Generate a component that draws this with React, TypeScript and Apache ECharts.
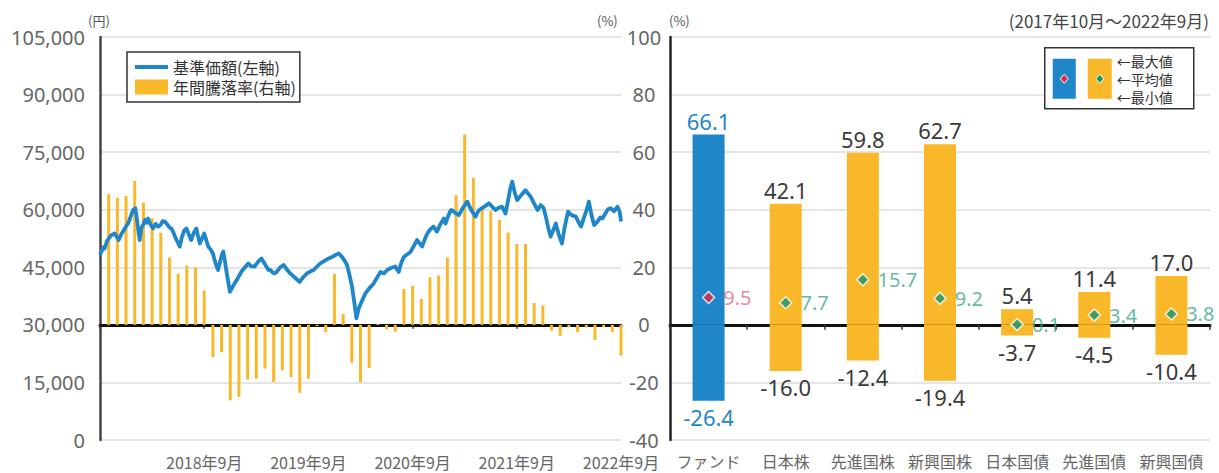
import React, { useEffect, useRef } from 'react';
import * as echarts from 'echarts';

// ---- Left chart data ----
// NAV (基準価額) readings: position in months since end of Sep 2017, value in yen
const navMonths = [
  0.0, 0.2, 0.4, 0.54, 0.8, 1.12, 1.4, 1.69, 1.9, 2.15, 2.4, 2.65, 2.9, 3.23, 3.5, 3.81, 4.07, 4.25, 4.45, 4.57,
  4.75, 4.96, 5.2, 5.35, 5.54, 5.8, 6.11, 6.4, 6.69, 7.0, 7.2, 7.46, 7.7, 8.0, 8.23, 8.5, 8.75, 9.0, 9.19, 9.4,
  9.7, 9.96, 10.2, 10.5, 10.8, 11.1, 11.3, 11.5, 11.75, 12.0, 12.25, 12.46, 12.75, 13.0, 13.2, 13.4, 13.6, 13.8, 14.0, 14.2,
  14.4, 14.6, 14.8, 14.96, 15.2, 15.5, 15.9, 16.3, 16.7, 17.07, 17.4, 17.8, 18.2, 18.6, 19.0, 19.4, 19.61, 19.9, 20.15, 20.38,
  20.75, 21.14, 21.5, 21.91, 22.4, 22.99, 23.4, 23.84, 24.2, 24.6, 25.0, 25.37, 25.8, 26.33, 26.9, 27.2, 27.49, 27.87, 28.15, 28.45,
  28.75, 29.03, 29.3, 29.53, 29.8, 30.2, 30.56, 31.0, 31.52, 31.9, 32.3, 32.7, 33.07, 33.5, 34.0, 34.4, 34.7, 34.98, 35.4, 35.76,
  36.1, 36.5, 37.1, 37.4, 37.7, 38.0, 38.4, 38.8, 39.2, 39.6, 39.79, 40.1, 40.4, 40.56, 40.9, 41.33, 41.8, 42.29, 42.6, 42.9,
  43.25, 43.6, 44.0, 44.4, 44.8, 45.2, 45.56, 45.9, 46.3, 46.7, 47.0, 47.25, 47.48, 47.75, 48.05, 48.5, 49.0, 49.3, 49.6, 50.0,
  50.4, 50.75, 51.1, 51.4, 51.65, 51.9, 52.2, 52.5, 52.8, 53.0, 53.2, 53.5, 53.9, 54.3, 54.8, 55.1, 55.4, 55.8, 56.0, 56.3,
  56.6, 56.9, 57.3, 57.6, 57.85, 58.2, 58.5, 58.8, 59.2, 59.6, 59.85, 60.0,
];
const navValues = [
  48200, 49300, 50200, 49900, 51800, 52900, 53500, 53800, 53000, 52100, 53400, 54300, 55300, 56400, 58000, 59900, 60400, 57500, 54000, 52100,
  55200, 56000, 57400, 56600, 57700, 56200, 55100, 56300, 55600, 56100, 57000, 56900, 56300, 55400, 55100, 53800, 52400, 51300, 50400, 52600,
  54600, 55100, 53700, 52100, 54000, 55100, 53000, 51200, 52500, 53800, 52000, 50400, 49600, 48600, 46900, 45400, 44300, 46200, 48000, 49100,
  46400, 43400, 40800, 38600, 39600, 40800, 42300, 43900, 45000, 46000, 45300, 45200, 46400, 47300, 45800, 44300, 44300, 43600, 43400, 43900,
  45000, 45600, 44500, 43400, 42400, 41200, 42400, 43400, 43900, 44300, 45200, 46000, 46600, 47300, 47900, 48300, 48600, 47700, 46800, 45600,
  42800, 39900, 35600, 31700, 34300, 36400, 38200, 39500, 40800, 42300, 43800, 43400, 44300, 44800, 45200, 43800, 46200, 47700, 48400, 49000,
  50400, 52100, 50400, 52300, 53800, 54800, 55600, 54300, 56200, 57700, 56400, 58400, 59900, 59900, 59200, 58600, 60500, 62100, 60600, 59400,
  58200, 59800, 60400, 61000, 61700, 60700, 59900, 60500, 60800, 59000, 62500, 65500, 67300, 64500, 62500, 63800, 65100, 64200, 63400, 61600,
  59900, 61200, 60400, 57600, 55000, 53000, 54700, 56400, 53800, 52400, 51200, 55300, 59500, 58600, 58200, 56800, 55600, 58400, 59600, 62100,
  58600, 56000, 56900, 58000, 57700, 59000, 60100, 60400, 59600, 60800, 59500, 56900,
];
// 年間騰落率 at each month end, Oct 2017 .. Sep 2022 (%)
const annualReturns = [
  45.4, 44.2, 44.8, 50.0, 42.5, 37.0, 32.0, 23.4, 17.7, 20.6, 20.0, 11.9,
  -11.2, -9.5, -26.2, -25.0, -19.0, -18.7, -15.2, -19.9, -15.8, -18.1, -23.6, -18.7,
  -0.4, -2.5, 17.7, 3.8, -13.2, -19.9, -15.0, 0.3, -1.5, -2.4, 12.4, 13.6,
  9.0, 16.5, 17.1, 23.4, 45.0, 66.1, 51.0, 40.5, 39.5, 36.5, 32.1, 28.1,
  28.1, 7.6, 6.7, -2.0, -3.8, -0.8, -2.5, -0.9, -5.3, -0.8, -2.5, -10.7,
];
const xTickLabels = ['2018年9月', '2019年9月', '2020年9月', '2021年9月', '2022年9月'];

// ---- Right chart data ----
const categories = ['ファンド', '日本株', '先進国株', '新興国株', '日本国債', '先進国債', '新興国債'];
const maxValues = [66.1, 42.1, 59.8, 62.7, 5.4, 11.4, 17.0];
const avgValues = [9.5, 7.7, 15.7, 9.2, 0.1, 3.4, 3.8];
const minValues = [-26.4, -16.0, -12.4, -19.4, -3.7, -4.5, -10.4];

const BLUE = '#1f87c9';
const ORANGE = '#f9b82a';
const RED = '#e5283f';
const GREEN = '#15956b';
const PINK_TXT = '#e8687e';
const GREEN_TXT = '#3aa888';
const GRAY_TXT = '#666';
const DARK_TXT = '#3a3a3a';
const GRID = '#dcdcdc';
const NUM_FONT = "'Noto Sans', 'DejaVu Sans', sans-serif";
const JP_FONT = "'Noto Sans CJK JP', 'Noto Sans', sans-serif";

const fmtComma = (v: number) => String(v).replace(/\B(?=(\d{3})+(?!\d))/g, ',');

export default function App() {
  const ref = useRef<HTMLDivElement>(null);
  useEffect(() => {
    if (!ref.current) return;
    const chart = echarts.init(ref.current, undefined, { renderer: 'svg' });
    const option: any = {
      animation: false,
      backgroundColor: '#fff',
      grid: [
        { left: 100, right: 598, top: 37, bottom: 33, containLabel: false, outerBoundsMode: 'none' },
        { left: 670, right: 9, top: 37, bottom: 33, containLabel: false, outerBoundsMode: 'none' },
      ],
      legend: {
        data: [
          { name: '基準価額(左軸)', icon: 'path://M0,0h33v4h-33z' },
          { name: '年間騰落率(右軸)', icon: 'rect' },
        ],
        left: 127,
        top: 52,
        orient: 'vertical',
        itemWidth: 33,
        itemHeight: 15,
        itemGap: 4,
        padding: [7, 4, 7, 8],
        borderColor: '#333',
        borderWidth: 1.5,
        backgroundColor: '#fff',
        textStyle: { fontSize: 16, lineHeight: 15, color: '#333', fontFamily: JP_FONT },
        z: 10,
      },
      xAxis: [
        {
          type: 'value',
          gridIndex: 0,
          min: 0,
          max: 60,
          interval: 12,
          axisLine: { show: true, onZero: true, onZeroAxisIndex: 1, lineStyle: { color: '#111', width: 3 } },
          axisTick: { show: true, length: 4, lineStyle: { color: '#333', width: 1.5 } },
          axisLabel: {
            margin: 14,
            fontSize: 16,
            lineHeight: 16,
            color: GRAY_TXT,
            fontFamily: JP_FONT,
            formatter: (v: number) => (v > 0 && v % 12 === 0 ? xTickLabels[v / 12 - 1] : ''),
          },
          splitLine: { show: false },
        },
        {
          type: 'category',
          gridIndex: 1,
          data: categories,
          axisLine: { show: true, onZero: true, lineStyle: { color: '#111', width: 3 } },
          axisTick: { show: true, length: 5, lineStyle: { color: '#333', width: 1.5 } },
          axisLabel: { margin: 13, fontSize: 16, lineHeight: 16, color: GRAY_TXT, fontFamily: JP_FONT, interval: 0 },
        },
      ],
      yAxis: [
        {
          type: 'value',
          gridIndex: 0,
          position: 'left',
          min: 0,
          max: 105000,
          interval: 15000,
          axisLine: { show: true, lineStyle: { color: '#444', width: 2.5 } },
          axisTick: { show: false },
          axisLabel: { margin: 15, fontSize: 20, color: GRAY_TXT, fontFamily: NUM_FONT, formatter: fmtComma },
          splitLine: { show: true, lineStyle: { color: GRID, width: 1.5 } },
        },
        {
          type: 'value',
          gridIndex: 0,
          position: 'right',
          min: -40,
          max: 100,
          interval: 20,
          axisLine: { show: false },
          axisTick: { show: false },
          axisLabel: { margin: 23, align: 'center', fontSize: 20, lineHeight: 18, color: GRAY_TXT, fontFamily: NUM_FONT },
          splitLine: { show: false },
        },
        {
          type: 'value',
          gridIndex: 1,
          min: -40,
          max: 100,
          interval: 20,
          axisLine: { show: true, lineStyle: { color: '#222', width: 2.5 } },
          axisTick: { show: false },
          axisLabel: { show: false },
          splitLine: { show: true, lineStyle: { color: GRID, width: 1.5 } },
        },
      ],
      series: [
        {
          name: '年間騰落率(右軸)',
          type: 'bar',
          xAxisIndex: 0,
          yAxisIndex: 1,
          barWidth: 3,
          itemStyle: { color: ORANGE },
          data: annualReturns.map((v, i) => [i + 1, v]),
        },
        {
          name: '基準価額(左軸)',
          type: 'line',
          xAxisIndex: 0,
          yAxisIndex: 0,
          symbol: 'none',
          z: 4,
          lineStyle: { color: BLUE, width: 3.8, join: 'round' },
          itemStyle: { color: BLUE },
          data: navMonths.map((m, i) => [m, navValues[i]]),
        },
        {
          name: '最大値',
          type: 'bar',
          xAxisIndex: 1,
          yAxisIndex: 2,
          stack: 'range',
          barWidth: 32,
          label: {
            show: true,
            position: 'top',
            distance: 3,
            fontSize: 22,
            fontFamily: NUM_FONT,
            formatter: (p: any) => Number(p.value).toFixed(1),
          },
          data: maxValues.map((v, i) => ({
            value: v,
            itemStyle: { color: i === 0 ? BLUE : ORANGE },
            label: { color: i === 0 ? BLUE : DARK_TXT },
          })),
        },
        {
          name: '最小値',
          type: 'bar',
          xAxisIndex: 1,
          yAxisIndex: 2,
          stack: 'range',
          barWidth: 32,
          label: {
            show: true,
            position: 'bottom',
            distance: 5,
            fontSize: 22,
            fontFamily: NUM_FONT,
            formatter: (p: any) => Number(p.value).toFixed(1),
          },
          data: minValues.map((v, i) => ({
            value: v,
            itemStyle: { color: i === 0 ? BLUE : ORANGE },
            label: { color: i === 0 ? BLUE : DARK_TXT },
          })),
        },
        {
          name: '平均値',
          type: 'scatter',
          xAxisIndex: 1,
          yAxisIndex: 2,
          symbol: 'diamond',
          symbolSize: 12,
          z: 5,
          label: {
            show: true,
            position: 'right',
            distance: 8,
            fontSize: 20,
            fontFamily: NUM_FONT,
            formatter: (p: any) => Number(p.value).toFixed(1),
          },
          data: avgValues.map((v, i) => ({
            value: v,
            itemStyle: { color: i === 0 ? RED : GREEN, borderColor: '#fff', borderWidth: 1.5 },
            label: { color: i === 0 ? PINK_TXT : GREEN_TXT },
          })),
        },
      ],
      graphic: [
        { type: 'text', left: 88, top: 14, z: 20, style: { text: '(円)', fontSize: 13, fill: '#555', fontFamily: JP_FONT } },
        { type: 'text', left: 597, top: 14, z: 20, style: { text: '(%)', fontSize: 13, fill: '#555', fontFamily: JP_FONT } },
        { type: 'text', left: 669, top: 14, z: 20, style: { text: '(%)', fontSize: 13, fill: '#555', fontFamily: JP_FONT } },
        {
          type: 'text',
          right: 10,
          top: 12,
          z: 20,
          style: { text: '(2017年10月～2022年9月)', fontSize: 17, fill: '#444', fontFamily: JP_FONT },
        },
        {
          type: 'group',
          left: 1044,
          top: 47,
          z: 20,
          children: [
            { type: 'rect', z: 20, shape: { x: 0, y: 0, width: 149, height: 61 }, style: { fill: '#fff', stroke: '#333', lineWidth: 1.5 } },
            { type: 'rect', z: 21, shape: { x: 8, y: 11, width: 23, height: 40 }, style: { fill: BLUE } },
            { type: 'rect', z: 21, shape: { x: 43, y: 11, width: 24, height: 40 }, style: { fill: ORANGE } },
            {
              type: 'polygon',
              z: 22,
              shape: { points: [[19.5, 26.5], [23.5, 31], [19.5, 35.5], [15.5, 31]] },
              style: { fill: RED, stroke: '#fff', lineWidth: 1 },
            },
            {
              type: 'polygon',
              z: 22,
              shape: { points: [[55, 26.5], [59, 31], [55, 35.5], [51, 31]] },
              style: { fill: GREEN, stroke: '#fff', lineWidth: 1 },
            },
            { type: 'text', z: 22, x: 72, y: 13, style: { text: '←最大値', fontSize: 14, lineHeight: 14, fill: '#333', fontFamily: JP_FONT, verticalAlign: 'middle' } },
            { type: 'text', z: 22, x: 72, y: 31, style: { text: '←平均値', fontSize: 14, lineHeight: 14, fill: '#333', fontFamily: JP_FONT, verticalAlign: 'middle' } },
            { type: 'text', z: 22, x: 72, y: 49, style: { text: '←最小値', fontSize: 14, lineHeight: 14, fill: '#333', fontFamily: JP_FONT, verticalAlign: 'middle' } },
          ],
        },
      ],
    };
    chart.setOption(option);
    return () => chart.dispose();
  }, []);
  return (
    <div
      ref={ref}
      style={{ position: 'absolute', left: 0, top: 0, width: 1219, height: 473, background: '#fff' }}
    />
  );
}
